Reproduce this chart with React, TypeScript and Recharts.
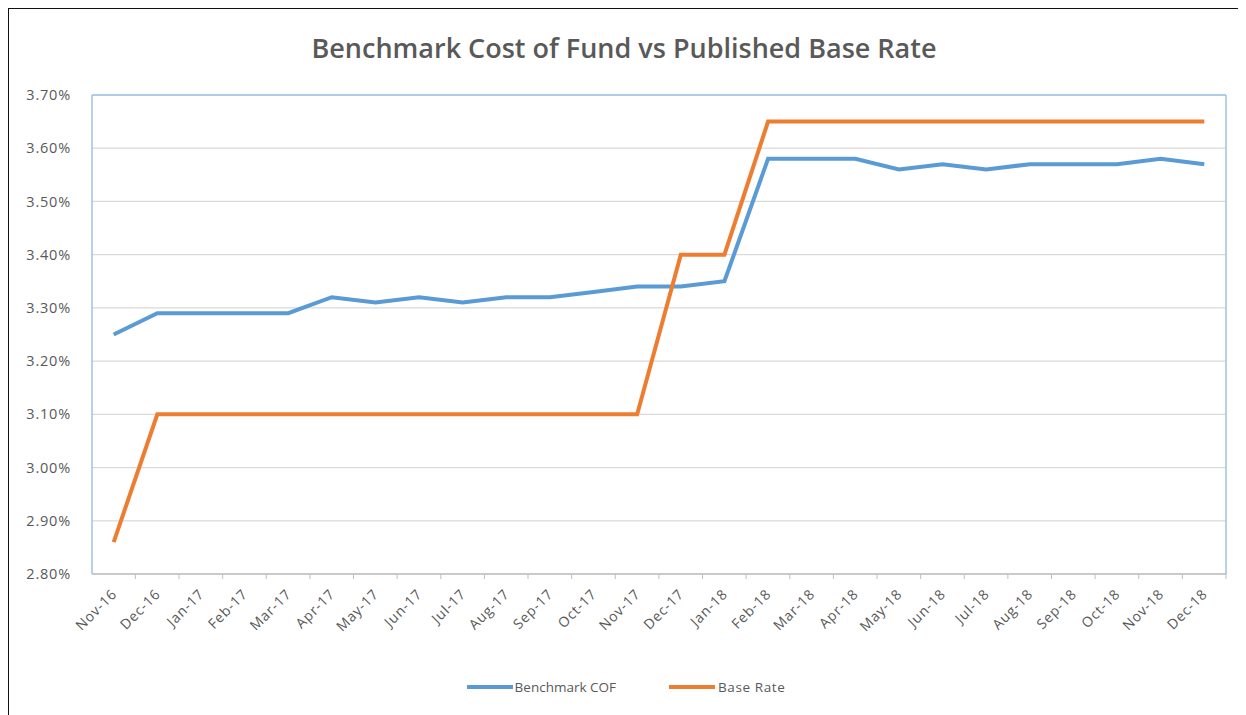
import React from 'react';
import { LineChart, Line, XAxis, YAxis, CartesianGrid, Legend, ReferenceLine } from 'recharts';

const months = ['Nov-16','Dec-16','Jan-17','Feb-17','Mar-17','Apr-17','May-17','Jun-17','Jul-17','Aug-17','Sep-17','Oct-17','Nov-17','Dec-17','Jan-18','Feb-18','Mar-18','Apr-18','May-18','Jun-18','Jul-18','Aug-18','Sep-18','Oct-18','Nov-18','Dec-18'];
const benchmarkCOF = [3.25,3.29,3.29,3.29,3.29,3.32,3.31,3.32,3.31,3.32,3.32,3.33,3.34,3.34,3.35,3.58,3.58,3.58,3.56,3.57,3.56,3.57,3.57,3.57,3.58,3.57];
const baseRate = [2.86,3.10,3.10,3.10,3.10,3.10,3.10,3.10,3.10,3.10,3.10,3.10,3.10,3.40,3.40,3.65,3.65,3.65,3.65,3.65,3.65,3.65,3.65,3.65,3.65,3.65];
const yTicks = [2.8,2.9,3.0,3.1,3.2,3.3,3.4,3.5,3.6,3.7];

const data = months.map((m, i) => ({ month: m, cof: benchmarkCOF[i], base: baseRate[i] }));

const FONT = '"Open Sans", "Noto Sans", sans-serif';
const TXT = '#595959';
const FRAME = '#9dc3e6';
const HALF_BAND = 21.7;

const XTick = (props: any) => {
  const { x, y, payload } = props;
  const ax = x + 4;
  const ay = y + 13;
  return (
    <g>
      <line x1={x + HALF_BAND} y1={y - 8} x2={x + HALF_BAND} y2={y - 3} stroke="#bfbfbf" />
      <text
        x={ax}
        y={ay}
        transform={`rotate(-45, ${ax}, ${ay})`}
        textAnchor="end"
        fill={TXT}
        fontSize={14}
        letterSpacing={0.8}
        fontFamily={FONT}
      >
        {payload.value}
      </text>
    </g>
  );
};

const LegendContent = () => (
  <div style={{ display: 'flex', justifyContent: 'center', fontFamily: FONT, fontSize: 13.5, color: TXT, height: 20, alignItems: 'center', paddingRight: 6 }}>
    <div style={{ display: 'flex', alignItems: 'center', marginRight: 53 }}>
      <svg width={46} height={10}><line x1={0} y1={5} x2={46} y2={5} stroke="#5b9bd5" strokeWidth={4} /></svg>
      <span style={{ marginLeft: 2 }}>Benchmark COF</span>
    </div>
    <div style={{ display: 'flex', alignItems: 'center' }}>
      <svg width={46} height={10}><line x1={0} y1={5} x2={46} y2={5} stroke="#ed7d31" strokeWidth={4} /></svg>
      <span style={{ marginLeft: 3, letterSpacing: 0.6 }}>Base Rate</span>
    </div>
  </div>
);

export default function App() {
  return (
    <div style={{ position: 'relative', width: 1240, height: 712, borderTop: '2px solid #111', borderLeft: '2px solid #111', boxSizing: 'border-box', background: '#fff', marginLeft: -1, marginTop: -1 }}>
      <div style={{ position: 'absolute', top: 20, left: 0, width: 1230, textAlign: 'center', fontFamily: FONT, fontWeight: 600, fontSize: 27, color: TXT }}>
        Benchmark Cost of Fund vs Published Base Rate
      </div>
      <LineChart
        width={1230}
        height={708}
        data={data}
        margin={{ top: 86, right: 12, bottom: 20, left: 22 }}
      >
        <CartesianGrid vertical={false} stroke="#d9d9d9" strokeWidth={1.2} yAxisId="left" />
        <XAxis
          dataKey="month"
          interval={0}
          tick={<XTick />}
          tickLine={false}
          axisLine={{ stroke: '#bfbfbf', strokeWidth: 1.5 }}
          height={103}
          padding={{ left: HALF_BAND, right: HALF_BAND }}
        />
        <YAxis
          yAxisId="left"
          domain={[2.8, 3.7]}
          ticks={yTicks}
          tickFormatter={(v: number) => v.toFixed(2) + '%'}
          tick={{ fill: TXT, fontSize: 14.5, fontFamily: FONT, letterSpacing: 0.8 }}
          tickLine={false}
          axisLine={{ stroke: FRAME, strokeWidth: 1.5 }}
          width={61}
          tickMargin={15}
        />
        <YAxis
          yAxisId="right"
          orientation="right"
          domain={[2.8, 3.7]}
          tick={false}
          tickLine={false}
          axisLine={{ stroke: FRAME, strokeWidth: 1.5 }}
          width={1}
        />
        <ReferenceLine yAxisId="left" y={3.7} stroke={FRAME} strokeWidth={1.5} />
        <Legend verticalAlign="bottom" height={20} content={<LegendContent />} />
        <Line yAxisId="left" type="linear" dataKey="cof" name="Benchmark COF" stroke="#5b9bd5" strokeWidth={4} dot={false} isAnimationActive={false} />
        <Line yAxisId="left" type="linear" dataKey="base" name="Base Rate" stroke="#ed7d31" strokeWidth={4} dot={false} isAnimationActive={false} />
      </LineChart>
    </div>
  );
}
